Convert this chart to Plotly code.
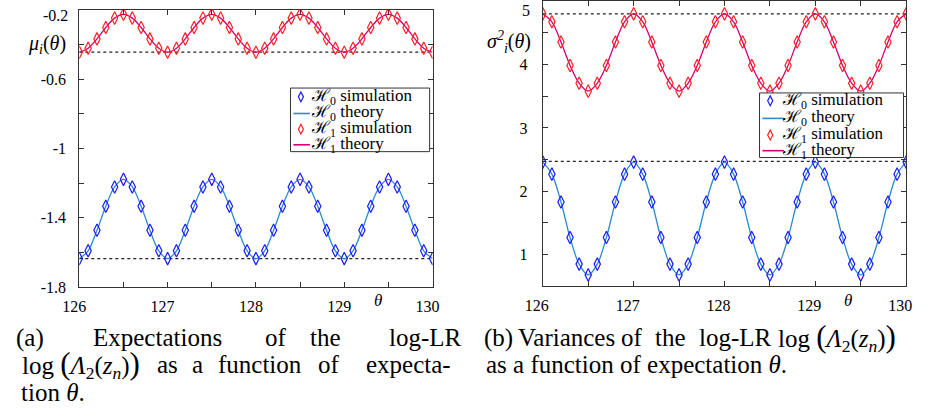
import plotly.graph_objects as go

theta = [126.0, 126.1, 126.2, 126.3, 126.4, 126.5, 126.6, 126.7, 126.8, 126.9,
         127.0, 127.1, 127.2, 127.3, 127.4, 127.5, 127.6, 127.7, 127.8, 127.9,
         128.0, 128.1, 128.2, 128.3, 128.4, 128.5, 128.6, 128.7, 128.8, 128.9,
         129.0, 129.1, 129.2, 129.3, 129.4, 129.5, 129.6, 129.7, 129.8, 129.9,
         130.0]

mu_h0 = [-1.635, -1.590, -1.472, -1.333, -1.222, -1.178, -1.222, -1.333, -1.472, -1.590,
         -1.635, -1.590, -1.472, -1.333, -1.222, -1.178, -1.222, -1.333, -1.472, -1.590,
         -1.635, -1.590, -1.472, -1.333, -1.222, -1.178, -1.222, -1.333, -1.472, -1.590,
         -1.635, -1.590, -1.472, -1.333, -1.222, -1.178, -1.222, -1.333, -1.472, -1.590,
         -1.635]
mu_h1 = [-0.445, -0.422, -0.368, -0.302, -0.248, -0.226, -0.248, -0.302, -0.368, -0.422,
         -0.445, -0.422, -0.368, -0.302, -0.248, -0.226, -0.248, -0.302, -0.368, -0.422,
         -0.445, -0.422, -0.368, -0.302, -0.248, -0.226, -0.248, -0.302, -0.368, -0.422,
         -0.445, -0.422, -0.368, -0.302, -0.248, -0.226, -0.248, -0.302, -0.368, -0.422,
         -0.445]
var_h0 = [2.46, 2.27, 1.83, 1.27, 0.85, 0.68, 0.85, 1.27, 1.83, 2.27,
          2.46, 2.27, 1.83, 1.27, 0.85, 0.68, 0.85, 1.27, 1.83, 2.27,
          2.46, 2.27, 1.83, 1.27, 0.85, 0.68, 0.85, 1.27, 1.83, 2.27,
          2.46, 2.27, 1.83, 1.27, 0.85, 0.68, 0.85, 1.27, 1.83, 2.27,
          2.46]
var_h1 = [4.80, 4.675, 4.355, 3.985, 3.705, 3.58, 3.705, 3.985, 4.355, 4.675,
          4.80, 4.675, 4.355, 3.985, 3.705, 3.58, 3.705, 3.985, 4.355, 4.675,
          4.80, 4.675, 4.355, 3.985, 3.705, 3.58, 3.705, 3.985, 4.355, 4.675,
          4.80, 4.675, 4.355, 3.985, 3.705, 3.58, 3.705, 3.985, 4.355, 4.675,
          4.80]

mu_levels = [-0.444, -1.635]
var_levels = [4.80, 2.47]

x_ticks = [126, 126.5, 127, 127.5, 128, 128.5, 129, 129.5, 130]
x_text = ["126", "", "127", "", "128", "", "129", "", "130"]
mu_ticks = [-1.8, -1.6, -1.4, -1.2, -1.0, -0.8, -0.6, -0.4, -0.2]
mu_text = ["-1.8", "", "-1.4", "", "-1", "", "-0.6", "", ""]
var_ticks = [0.5, 1, 1.5, 2, 2.5, 3, 3.5, 4, 4.5, 5]
var_text = ["", "1", "", "2", "", "3", "", "4", "", ""]

labels = ["\u210b<sub>0</sub> simulation", "\u210b<sub>0</sub> theory",
          "\u210b<sub>1</sub> simulation", "\u210b<sub>1</sub> theory"]

C_SIM0 = "#1a1aff"
C_TH0 = "#2a8ad2"
C_SIM1 = "#ff2020"
C_TH1 = "#d4007a"
SERIF = "Liberation Serif"

W, H = 930, 417

def px_x(p):
    return p / W

def px_y(p):
    return (H - p) / H

fig = go.Figure()

def add_panel(xa, ya, y0, y1):
    fig.add_trace(go.Scatter(x=theta, y=y0, mode="lines", line=dict(color=C_TH0, width=1.3, shape="spline"),
                             name=labels[1], xaxis=xa, yaxis=ya, showlegend=False))
    fig.add_trace(go.Scatter(x=theta, y=y1, mode="lines", line=dict(color=C_TH1, width=1.3, shape="spline"),
                             name=labels[3], xaxis=xa, yaxis=ya, showlegend=False))
    fig.add_trace(go.Scatter(x=theta, y=y0, mode="markers",
                             marker=dict(symbol="diamond-tall-open", size=9, color=C_SIM0, line=dict(width=1.2)),
                             name=labels[0], xaxis=xa, yaxis=ya, showlegend=False))
    fig.add_trace(go.Scatter(x=theta, y=y1, mode="markers",
                             marker=dict(symbol="diamond-tall-open", size=9, color=C_SIM1, line=dict(width=1.2)),
                             name=labels[2], xaxis=xa, yaxis=ya, showlegend=False))

add_panel("x", "y", mu_h0, mu_h1)
add_panel("x2", "y2", var_h0, var_h1)

shapes = []
for lv in mu_levels:
    shapes.append(dict(type="line", xref="x", yref="y", x0=theta[0], x1=theta[-1], y0=lv, y1=lv,
                       line=dict(color="#222", width=1.2, dash="3px,3px"), layer="below"))
for lv in var_levels:
    shapes.append(dict(type="line", xref="x2", yref="y2", x0=theta[0], x1=theta[-1], y0=lv, y1=lv,
                       line=dict(color="#222", width=1.2, dash="3px,3px"), layer="below"))

ann = []
def A(text, x, y, size=16, anchor="center", family=SERIF):
    ann.append(dict(text=text, x=px_x(x), y=px_y(y), xref="paper", yref="paper", showarrow=False,
                    xanchor=anchor, yanchor="middle", font=dict(family=family, size=size, color="black")))

def legend_box(x0, y0, x1, y1, rows, sym_x, line_x0, line_x1, text_x):
    shapes.append(dict(type="rect", xref="paper", yref="paper", x0=px_x(x0), x1=px_x(x1),
                       y0=px_y(y1), y1=px_y(y0), fillcolor="white", line=dict(color="#333", width=1),
                       layer="above"))
    kinds = [("sim", C_SIM0), ("line", C_TH0), ("sim", C_SIM1), ("line", C_TH1)]
    for (kind, col), ry, lab in zip(kinds, rows, labels):
        if kind == "sim":
            hw, hh = 2.6, 5.0
            path = "M {a},{b} L {c},{d} L {a},{e} L {f},{d} Z".format(
                a=px_x(sym_x), b=px_y(ry - hh), c=px_x(sym_x + hw), d=px_y(ry),
                e=px_y(ry + hh), f=px_x(sym_x - hw))
            shapes.append(dict(type="path", xref="paper", yref="paper", path=path,
                               line=dict(color=col, width=1.2), layer="above"))
        else:
            shapes.append(dict(type="line", xref="paper", yref="paper", x0=px_x(line_x0), x1=px_x(line_x1),
                               y0=px_y(ry), y1=px_y(ry), line=dict(color=col, width=1.6), layer="above"))
        A(lab, text_x, ry, 17, "left")

legend_box(280, 90, 423, 155, [99, 116, 132, 148], 290.7, 283, 300, 299)
legend_box(762, 95, 910, 161, [103, 121, 138, 154], 773, 765, 787, 783)

axis_common = dict(showline=True, linecolor="#333", linewidth=1, mirror="ticks", ticks="inside",
                   ticklen=5, tickcolor="#333", showgrid=False, zeroline=False,
                   tickfont=dict(family=SERIF, size=16, color="black"))

fig.update_layout(
    width=W, height=H, margin=dict(l=0, r=0, t=0, b=0),
    paper_bgcolor="white", plot_bgcolor="white", showlegend=False,
    font=dict(family=SERIF),
    xaxis=dict(domain=[px_x(63), px_x(426)], range=[126, 130], tickvals=x_ticks, ticktext=x_text,
               anchor="y", ticklabelshift=-5, ticklabelstandoff=5, **axis_common),
    yaxis=dict(domain=[px_y(293.5), px_y(10)], range=[-1.8, -0.2], tickvals=mu_ticks, ticktext=mu_text,
               anchor="x", ticklabelstandoff=9, **axis_common),
    xaxis2=dict(domain=[px_x(539.3), px_x(912.7)], range=[126, 130], tickvals=x_ticks, ticktext=x_text,
                anchor="y2", ticklabelshift=-6, ticklabelstandoff=5, **axis_common),
    yaxis2=dict(domain=[px_y(292.6), px_y(1.2)], range=[0.5, 5], tickvals=var_ticks, ticktext=var_text,
                anchor="x2", ticklabelstandoff=11, **axis_common),
)

A("<i>μ<sub>i</sub></i>(<i>θ</i>)", 30, 45, 20)
A("<i>σ<sup>2</sup><sub>i</sub></i>(<i>θ</i>)", 505, 43, 20)
A("-0.2", 53, 16, 16, "right")
A("5", 528, 11, 16, "right")
A("<i>θ</i>", 370, 307, 17)
A("<i>θ</i>", 853, 307, 17)

CAP = 25
BIG = '<span style="font-size:31px">{}</span>'
LOG = "log " + BIG.format("(") + "<i>Λ</i><sub>2</sub>(<i>z<sub>n</sub></i>)" + BIG.format(")")
for w, x0, x1 in [("(a)", 1, 23), ("Expectations", 74, 213), ("of", 257, 273), ("the", 293, 338), ("log-LR", 383, 455)]:
    A(w, (x0 + x1) / 2, 345, CAP)
A(LOG, 2, 373, CAP, "left")
for w, x0, x1 in [("as", 143, 165), ("a", 178, 190), ("function", 203, 295), ("of", 310, 330), ("expecta-", 347, 455)]:
    A(w, (x0 + x1) / 2, 373, CAP)
A("tion <i>θ</i>.", 1, 401, CAP, "left")
for w, x0, x1 in [("(b)", 480, 508), ("Variances", 515, 612), ("of", 622, 640), ("the", 650, 692), ("log-LR", 702, 772)]:
    A(w, (x0 + x1) / 2, 345, CAP)
A(LOG, 779, 345, CAP, "left")
A("as a function of expectation <i>θ</i>.", 479, 373, CAP, "left")

fig.update_layout(annotations=ann, shapes=shapes)
fig.write_html("out.html")
